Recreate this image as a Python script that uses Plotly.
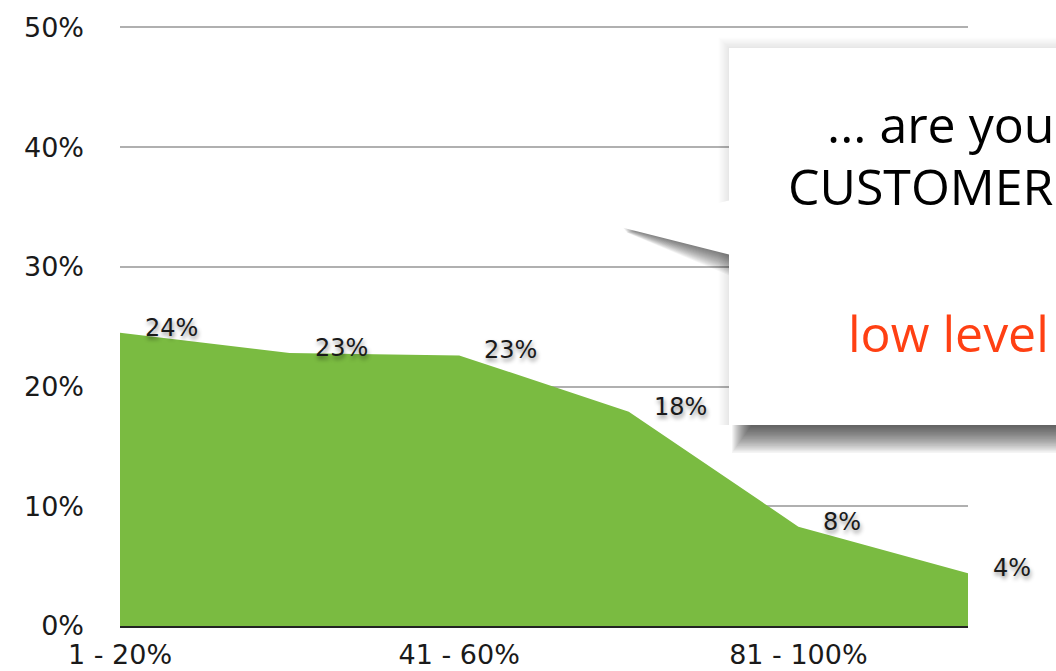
import plotly.graph_objects as go

# ---- data ----
categories = ["1 - 20%", "21 - 40%", "41 - 60%", "61 - 80%", "81 - 100%", "> 100%"]
values = [24.5, 22.8, 22.6, 17.9, 8.3, 4.4]
value_labels = ["24%", "23%", "23%", "18%", "8%", "4%"]
shown_ticks = ["1 - 20%", "41 - 60%", "81 - 100%"]
y_ticks = [0, 10, 20, 30, 40, 50]
y_tick_text = ["0%", "10%", "20%", "30%", "40%", "50%"]
callout_lines = ["... are your", "CUSTOMERS", "low level"]

W, H = 1056, 671
L, R, T, B = 120, 88, 25, 45
PW, PH = W - L - R, H - T - B
TICK_FONT = "DejaVu Sans, Verdana, sans-serif"


def px(x):
    return (x - L) / PW


def py(y):
    return (H - B - y) / PH


fig = go.Figure()
fig.add_trace(go.Scatter(
    x=categories, y=values, mode="lines", fill="tozeroy",
    line=dict(width=0, color="#7abb41"), fillcolor="#7abb41",
    hoverinfo="skip", showlegend=False,
))

annotations = []
for c, v, t in zip(categories, values, value_labels):
    annotations.append(dict(
        x=c, y=v, xref="x", yref="y", text=t, showarrow=False,
        xanchor="left", yanchor="middle", xshift=23, yshift=5,
        font=dict(family=TICK_FONT, size=24, color="#1a1a1a",
                  shadow="1px 3px 4px rgba(0,0,0,0.45)"),
    ))


def rect(x0, y0, x1, y1, color):
    return dict(type="rect", xref="paper", yref="paper",
                x0=px(x0), x1=px(x1), y0=py(y0), y1=py(y1),
                fillcolor=color, line=dict(width=0), layer="above")


def tri(p1, p2, p3, color):
    path = "M {} {} L {} {} L {} {} Z".format(
        px(p1[0]), py(p1[1]), px(p2[0]), py(p2[1]), px(p3[0]), py(p3[1]))
    return dict(type="path", xref="paper", yref="paper", path=path,
                fillcolor=color, line=dict(width=0), layer="above")


shapes = []
bx0, by0, bx1, by1 = 729, 48, 1080, 425
# faint halo around the callout
for j in range(1, 9):
    shapes.append(rect(bx0 - j * 1.3, by0 - j * 1.3, bx1, by1, "rgba(0,0,0,0.012)"))
# soft drop shadow below the callout
for i in range(1, 21):
    shapes.append(rect(bx0 + 3 + (20 - i) * 1.0, by1 - 5, bx1, by1 + i * 1.4,
                       "rgba(0,0,0,0.045)"))
# pointer shadow
tip = (620, 227)
for i in range(1, 17):
    shapes.append(tri((tip[0] + 2 + i * 0.3, tip[1] + i * 0.35), (bx0 + 1, 212),
                      (bx0 + 1, 255 + i * 1.3), "rgba(0,0,0,0.04)"))
# pointer and box
shapes.append(tri(tip, (bx0 + 2, 200), (bx0 + 2, 255), "white"))
shapes.append(rect(bx0, by0, bx1, by1, "white"))

callout_font = "Open Sans, Noto Sans, sans-serif"
annotations += [
    dict(x=px(825), y=py(124), xref="paper", yref="paper", text=callout_lines[0],
         showarrow=False, xanchor="left", yanchor="middle",
         font=dict(family=callout_font, size=50, color="#000000", weight=400)),
    dict(x=px(786), y=py(186), xref="paper", yref="paper", text=callout_lines[1],
         showarrow=False, xanchor="left", yanchor="middle",
         font=dict(family=callout_font, size=50, color="#000000", weight=400)),
    dict(x=px(846), y=py(333), xref="paper", yref="paper", text=callout_lines[2],
         showarrow=False, xanchor="left", yanchor="middle",
         font=dict(family=callout_font, size=50, color="#ff4013", weight=400)),
]

fig.update_layout(
    width=W, height=H,
    margin=dict(l=L, r=R, t=T, b=B, pad=0, autoexpand=False),
    paper_bgcolor="white", plot_bgcolor="white",
    shapes=shapes, annotations=annotations,
    xaxis=dict(
        type="category", categoryorder="array", categoryarray=categories,
        range=[0, len(categories) - 1], tickmode="array", tickvals=shown_ticks,
        ticktext=shown_ticks, showgrid=False, zeroline=False,
        showline=True, linecolor="#222222", linewidth=2, automargin=False,
        ticks="", tickfont=dict(family=TICK_FONT, size=27, color="#1a1a1a"),
        ticklabelstandoff=4,
    ),
    yaxis=dict(
        range=[0, 50.2], tickmode="array", tickvals=y_ticks, ticktext=y_tick_text,
        showgrid=True, gridcolor="#b0b0b0", gridwidth=2, zeroline=False,
        showline=False, ticks="", automargin=False,
        tickfont=dict(family=TICK_FONT, size=27, color="#1a1a1a"),
        ticklabelstandoff=35,
    ),
)

fig.write_html("out.html", config={"displayModeBar": False},
               post_script="document.body.style.margin='0';document.body.style.overflow='hidden';")
